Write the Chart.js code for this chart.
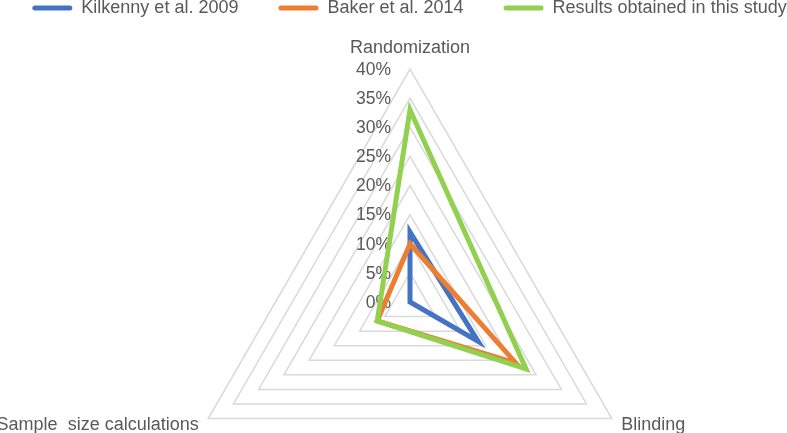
<!DOCTYPE html>
<html>
<head>
<meta charset="utf-8">
<script src="https://cdn.jsdelivr.net/npm/chart.js@4.4.1/dist/chart.umd.min.js"></script>
<style>
  html, body { margin: 0; padding: 0; background: #fff; }
  #wrap { width: 787px; height: 433px; }
</style>
</head>
<body>
<div id="wrap"><canvas id="radarChart"></canvas></div>
<script>
const categories = ["Randomization", "Blinding", "Sample  size calculations"];
const kilkenny = [12, 13.5, 0];
const baker = [10, 21, 6.5];
const thisStudy = [33, 23, 6.5];
const tickLabels = ["0%", "5%", "10%", "15%", "20%", "25%", "30%", "35%", "40%"];

const textColor = "#595959";
const fontFamily = "'Liberation Sans', Arial, sans-serif";

// axis numbers sit left of the vertical axis and the category names hug the
// corners, which Chart.js can't place itself, so they are drawn here from the scale
const radarText = {
  id: "radarText",
  beforeDatasetsDraw(chart) {
    const r = chart.scales.r;
    const ctx = chart.ctx;
    ctx.save();
    ctx.fillStyle = textColor;
    ctx.textBaseline = "middle";

    ctx.font = "17.5px " + fontFamily;
    ctx.textAlign = "right";
    r.ticks.forEach((t) => {
      const y = r.yCenter - r.getDistanceFromCenterForValue(t.value);
      ctx.fillText(t.label, r.xCenter - 19, y + 1);
    });

    ctx.font = "18px " + fontFamily;
    categories.forEach((name, i) => {
      const pos = r.getPointPosition(i, r.drawingArea + (i === 0 ? 22 : 11));
      if (Math.abs(pos.x - r.xCenter) < 2) ctx.textAlign = "center";
      else ctx.textAlign = pos.x > r.xCenter ? "left" : "right";
      ctx.fillText(name, pos.x, pos.y + 1);
    });
    ctx.restore();
  },
};

const ctx = document.getElementById("radarChart").getContext("2d");

new Chart(ctx, {
  type: "radar",
  data: {
    labels: categories,
    datasets: [
      {
        label: "Kilkenny et al. 2009",
        data: kilkenny,
        borderColor: "#4472C4",
        backgroundColor: "#4472C4",
        order: 2,
      },
      {
        label: "Baker et al. 2014",
        data: baker,
        borderColor: "#ED7D31",
        backgroundColor: "#ED7D31",
        order: 1,
      },
      {
        label: "Results obtained in this study",
        data: thisStudy,
        borderColor: "#92D050",
        backgroundColor: "#92D050",
        order: 0,
      },
    ],
  },
  options: {
    responsive: true,
    maintainAspectRatio: false,
    animation: false,
    // negative padding lets the wide legend stay on one row near the top edge
    layout: { padding: { top: -41, left: -10, right: -42, bottom: 0 } },
    elements: {
      line: { fill: false, borderWidth: 5, borderJoinStyle: "miter", tension: 0 },
      point: { radius: 0, hoverRadius: 0 },
    },
    plugins: {
      tooltip: { enabled: false },
      legend: {
        position: "top",
        labels: {
          boxWidth: 40,
          boxHeight: 5,
          padding: 40,
          color: textColor,
          font: { family: fontFamily, size: 18 },
          useBorderRadius: true,
          borderRadius: 2.5,
          sort: (a, b) => a.datasetIndex - b.datasetIndex,
          generateLabels: (chart) =>
            Chart.defaults.plugins.legend.labels
              .generateLabels(chart)
              .map((item) => ({ ...item, lineWidth: 0 })),
        },
      },
    },
    scales: {
      r: {
        min: 0,
        max: 40,
        ticks: {
          stepSize: 5,
          display: false,
          callback: (v, i) => tickLabels[i],
        },
        grid: { color: "#D9D9D9", lineWidth: 1.5 },
        angleLines: { display: false },
        pointLabels: { display: false },
        afterFit: (scale) => {
          scale.xCenter = 410;
          scale.yCenter = 302;
          scale.drawingArea = 233;
        },
      },
    },
  },
  plugins: [radarText],
});
</script>
</body>
</html>
